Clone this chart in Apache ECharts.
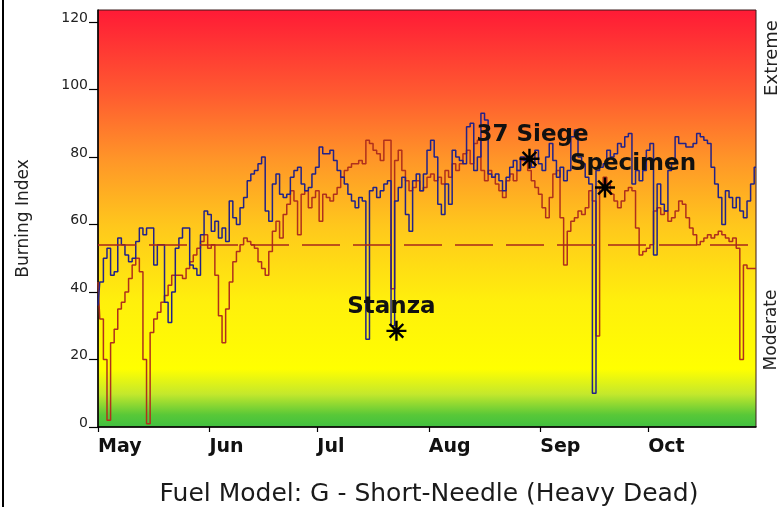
<!DOCTYPE html>
<html>
<head>
<meta charset="utf-8">
<script src="https://cdn.jsdelivr.net/npm/echarts@6/dist/echarts.min.js"></script>
<style>
html,body{margin:0;padding:0;background:#fff;}
#chart{width:782px;height:507px;}
</style>
</head>
<body>
<div id="chart"></div>
<script>
// ---- Data (day index 0 = May 1, 183 = Oct 31) ----
const monthLabels = ['May', 'Jun', 'Jul', 'Aug', 'Sep', 'Oct'];
const monthStartDays = [0, 31, 61, 92, 123, 153];
const yTickValues = [0, 20, 40, 60, 80, 100, 120];

const blueSeries = [
  36, 43, 50, 53, 45, 46, 56, 54, 51, 49,
  50, 55, 59, 57, 59, 59, 48, 54, 54, 37,
  31, 40, 53, 56, 59, 59, 48, 47, 45, 57,
  64, 63, 58, 61, 56, 59, 55, 67, 62, 60,
  65, 68, 73, 75, 76, 78, 80, 64, 61, 72,
  75, 69, 68, 69, 74, 76, 77, 72, 70, 71,
  75, 77, 83, 81, 81, 82, 79, 76, 74, 72,
  69, 67, 65, 68, 67, 26, 70, 71, 68, 70,
  72, 73, 30, 67, 71, 74, 63, 58, 73, 75,
  70, 75, 82, 85, 80, 66, 63, 72, 66, 82,
  80, 79, 78, 89, 90, 76, 80, 93, 91, 75,
  74, 75, 73, 70, 74, 77, 79, 76, 80, 79,
  80, 77, 82, 78, 76, 80, 84, 79, 74, 77,
  73, 76, 86, 88, 80, 78, 74, 72, 10, 76,
  77, 78, 82, 80, 81, 84, 83, 86, 87, 72,
  76, 73, 76, 82, 84, 51, 72, 66, 64, 76,
  78, 86, 84, 84, 83, 83, 84, 87, 86, 85,
  84, 77, 72, 68, 60, 70, 68, 65, 68, 64,
  62, 67, 72, 77
];

const redSeries = [
  43, 32, 20, 2, 25, 29, 35, 37, 40, 44,
  48, 50, 46, 20, 1, 28, 32, 34, 37, 39,
  42, 45, 45, 45, 44, 47, 49, 51, 53, 55,
  57, 53, 54, 45, 33, 25, 35, 43, 49, 52,
  54, 56, 55, 54, 53, 49, 47, 45, 52, 58,
  61, 56, 63, 66, 70, 67, 57, 69, 70, 65,
  68, 70, 61, 69, 68, 67, 69, 71, 74, 76,
  77, 78, 78, 79, 78, 85, 84, 82, 81, 79,
  85, 85, 41, 79, 82, 76, 73, 70, 71, 73,
  70, 71, 74, 75, 73, 74, 72, 76, 74, 78,
  76, 78, 81, 82, 78, 84, 85, 76, 73, 76,
  74, 72, 70, 68, 73, 75, 73, 76, 79, 80,
  76, 73, 71, 69, 65, 62, 68, 75, 76, 62,
  48, 58, 61, 62, 64, 63, 65, 70, 67, 27,
  71, 74, 72, 69, 67, 65, 67, 70, 71, 70,
  59, 51, 52, 53, 54, 64, 65, 63, 64, 61,
  62, 64, 67, 66, 62, 59, 57, 54, 55, 56,
  57, 56, 57, 58, 57, 56, 55, 56, 53, 20,
  48, 47, 47, 47
];

const thresholdValue = 54;

const markerNames = ['Stanza', '37 Siege', 'Specimen'];
const markerDays = [83, 120, 141];
const markerValues = [28.5, 79.5, 71];

// ---- Styles ----
const markerLabelDx = [-5, 3, 28];
const asterisk = 'path://M-1.2,-10L1.2,-10L1.2,10L-1.2,10Z M-10,-1.2L10,-1.2L10,1.2L-10,1.2Z ' +
  'M-6,-7.7L7.7,6L6,7.7L-7.7,-6Z M7.7,-6L-6,7.7L-7.7,6L6,-7.7Z';

const chart = echarts.init(document.getElementById('chart'), null, {renderer: 'canvas'});

const bgGradient = new echarts.graphic.LinearGradient(0, 0, 0, 1, [
  {offset: 0, color: '#ff1a36'},
  {offset: 0.2, color: '#ff5a30'},
  {offset: 0.36, color: '#ff9628'},
  {offset: 0.52, color: '#ffc81c'},
  {offset: 0.7, color: '#fff00c'},
  {offset: 0.86, color: '#ffff00'},
  {offset: 0.92, color: '#c4e82c'},
  {offset: 0.97, color: '#58c838'},
  {offset: 1, color: '#40c040'}
]);

const option = {
  backgroundColor: '#ffffff',
  animation: false,
  grid: {
    left: 98, right: 26, top: 10, bottom: 80,
    show: true,
    backgroundColor: bgGradient,
    borderColor: '#3a1a1a',
    borderWidth: 1
  },
  xAxis: {
    type: 'value',
    min: 0,
    max: 183,
    axisLine: {show: true, onZero: false, lineStyle: {color: '#000', width: 1.5}},
    axisTick: {show: true, length: 5, customValues: monthStartDays, lineStyle: {color: '#000', width: 1.2}},
    axisLabel: {
      customValues: monthStartDays,
      formatter: function (v) { return monthLabels[monthStartDays.indexOf(v)] || ''; },
      align: 'left',
      margin: 11,
      fontFamily: 'DejaVu Sans',
      fontWeight: 'bold',
      fontSize: 19,
      color: '#111'
    },
    splitLine: {show: false}
  },
  yAxis: {
    type: 'value',
    min: 0,
    max: 123.6,
    name: 'Burning Index',
    nameLocation: 'middle',
    nameGap: 66,
    nameTextStyle: {fontFamily: 'DejaVu Sans', fontSize: 17, color: '#222'},
    axisLine: {show: true, lineStyle: {color: '#000', width: 1.5}},
    axisTick: {show: true, length: 9, customValues: yTickValues, lineStyle: {color: '#000', width: 1.2}},
    axisLabel: {
      customValues: yTickValues,
      margin: 10,
      verticalAlign: 'bottom',
      padding: [0, 0, -3, 0],
      fontFamily: 'DejaVu Sans',
      fontSize: 14,
      color: '#222'
    },
    splitLine: {show: false}
  },
  series: [
    {
      type: 'line',
      name: 'red',
      data: redSeries.map((v, i) => [i, v]),
      step: 'middle',
      showSymbol: false,
      lineStyle: {color: '#b0301c', width: 1.5},
      z: 2,
      markLine: {
        silent: true,
        symbol: 'none',
        label: {show: false},
        lineStyle: {color: '#a8281a', width: 1.6, type: [38, 13]},
        data: [{yAxis: thresholdValue}]
      }
    },
    {
      type: 'line',
      name: 'blue',
      data: blueSeries.map((v, i) => [i, v]),
      step: 'middle',
      showSymbol: false,
      lineStyle: {color: '#22228a', width: 1.5},
      z: 3
    },
    {
      type: 'scatter',
      z: 5,
      symbol: asterisk,
      symbolSize: 20,
      itemStyle: {color: '#000', opacity: 1},
      data: markerNames.map((n, i) => ({
        name: n,
        value: [markerDays[i], markerValues[i]],
        label: {offset: [markerLabelDx[i], 0]}
      })),
      label: {
        show: true,
        position: 'top',
        distance: 2,
        formatter: '{b}',
        fontFamily: 'DejaVu Sans',
        fontWeight: 'bold',
        fontSize: 23,
        color: '#111',
        opacity: 1
      }
    }
  ],
  graphic: [
    {
      type: 'text',
      style: {
        text: 'Fuel Model: G - Short-Needle (Heavy Dead)',
        x: 429, y: 494,
        align: 'center', verticalAlign: 'middle',
        font: '25px "DejaVu Sans"',
        fill: '#1a1a1a'
      }
    },
    {
      type: 'text',
      x: 772, y: 58,
      rotation: Math.PI / 2,
      style: {
        text: 'Extreme',
        x: 0, y: 0,
        align: 'center', verticalAlign: 'middle',
        font: '18px "DejaVu Sans"',
        fill: '#222'
      }
    },
    {
      type: 'text',
      x: 772, y: 330,
      rotation: Math.PI / 2,
      style: {
        text: 'Moderate',
        x: 0, y: 0,
        align: 'center', verticalAlign: 'middle',
        font: '17px "DejaVu Sans"',
        fill: '#222'
      }
    },
    {
      type: 'line',
      shape: {x1: 3, y1: 0, x2: 3, y2: 507},
      style: {stroke: '#000', lineWidth: 2}
    }
  ]
};

chart.setOption(option);
</script>
</body>
</html>
